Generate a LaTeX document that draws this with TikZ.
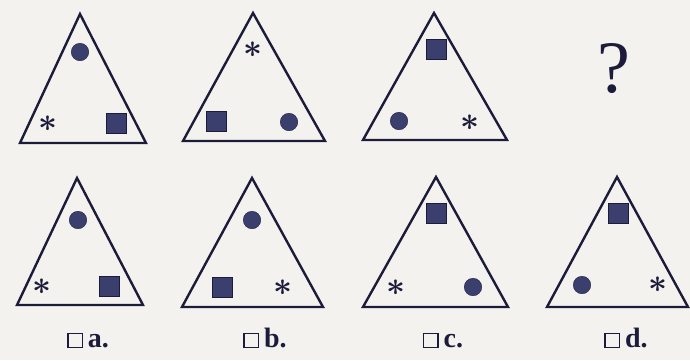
\documentclass[tikz,border=0pt]{standalone}
\usepackage{amsmath,amssymb}
\usepackage{graphicx}
\usepackage{fontspec}
\setmainfont{Liberation Serif}
\usepackage{xcolor}
\definecolor{paper}{RGB}{243,242,239}
\definecolor{ink}{RGB}{28,28,58}
\definecolor{markfill}{RGB}{58,63,110}
\usepackage{tikz}
\usetikzlibrary{positioning}

% small empty tick box in front of each answer letter
\newcommand{\chkbox}{{\setlength{\fboxsep}{0pt}\setlength{\fboxrule}{1.4pt}%
  \fbox{\rule{0pt}{13pt}\rule{13pt}{0pt}}}}
\newcommand{\astmark}{\scalebox{3.3}{\boldmath$\ast$}}

\begin{document}
\begin{tikzpicture}[x=1pt,y=-1pt,
  tri/.style={draw=ink,line width=2.4pt},
  dot/.style={circle,fill=markfill,draw=ink,line width=0.4pt,minimum size=17.5pt,inner sep=0pt},
  blk/.style={rectangle,fill=markfill,draw=ink,line width=0.4pt,minimum size=20.5pt,inner sep=0pt},
  astk/.style={text=ink,inner sep=0pt},
  optlbl/.style={text=ink,anchor=base,font=\fontsize{28}{32}\selectfont\bfseries}]
  \fill[paper] (0,0) rectangle (690,360);
  \useasboundingbox (0,0) rectangle (690,360);

  % top row: the sequence
  \draw[tri] (80,14) -- (20,143) -- (146,143) -- cycle;
  \node[dot]  (s1c) at (80,52)   {};
  \node[astk] (s1a) at (48,124)  {\astmark};
  \node[blk]  (s1q) at (116,123) {};

  \draw[tri] (253,13) -- (183,141) -- (325,141) -- cycle;
  \node[astk] (s2a) at (253,50)  {\astmark};
  \node[blk]  (s2q) at (216,121) {};
  \node[dot]  (s2c) at (289,122) {};

  \draw[tri] (434,13) -- (363,140) -- (507,140) -- cycle;
  \node[blk]  (s3q) at (436,49)  {};
  \node[dot]  (s3c) at (399,121) {};
  \node[astk] (s3a) at (470,123) {\astmark};

  \node[text=ink,font=\fontsize{74}{74}\selectfont] (qm) at (614,69) {?};

  % bottom row: the answers
  \draw[tri] (77,178) -- (17,305) -- (143,305) -- cycle;
  \node[dot]  (oac) at (78,220)  {};
  \node[astk] (oaa) at (42,287)  {\astmark};
  \node[blk]  (oaq) at (109,286) {};
  \node[optlbl] (opta) at (88,347) {\chkbox\hspace{5pt}a.};

  \draw[tri] (252,178) -- (182,307) -- (323,307) -- cycle;
  \node[dot]  (obc) at (252,220) {};
  \node[blk]  (obq) at (222,287) {};
  \node[astk] (oba) at (283,288) {\astmark};
  \node[optlbl] (optb) at (265,347) {\chkbox\hspace{5pt}b.};

  \draw[tri] (436,177) -- (363,307) -- (508,307) -- cycle;
  \node[blk]  (ocq) at (436,213) {};
  \node[astk] (oca) at (396,288) {\astmark};
  \node[dot]  (occ) at (473,287) {};
  \node[optlbl] (optc) at (443,347) {\chkbox\hspace{5pt}c.};

  \draw[tri] (617,177) -- (547,307) -- (688,307) -- cycle;
  \node[blk]  (odq) at (618,213) {};
  \node[dot]  (odc) at (582,285) {};
  \node[astk] (oda) at (658,285) {\astmark};
  \node[optlbl] (optd) at (626,347) {\chkbox\hspace{5pt}d.};
\end{tikzpicture}
\end{document}
